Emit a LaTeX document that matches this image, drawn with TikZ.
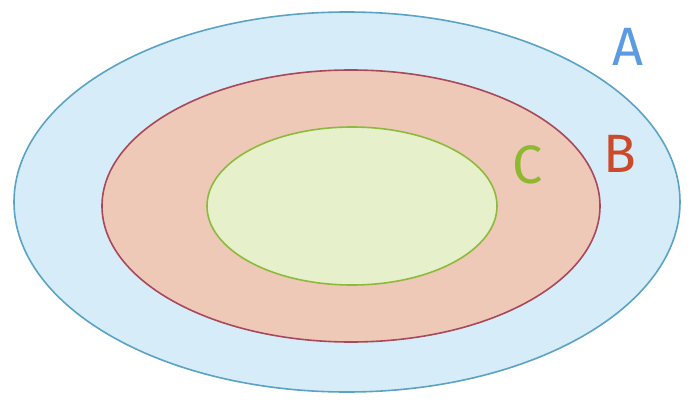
\documentclass[tikz,border=0pt]{standalone}
\usepackage{fontspec}
\setmainfont{Fira Sans}
\definecolor{afill}{HTML}{D6EDF9}
\definecolor{aline}{HTML}{5AA3C4}
\definecolor{bfill}{HTML}{EEC9B8}
\definecolor{bline}{HTML}{A8485A}
\definecolor{cfill}{HTML}{E6F0CA}
\definecolor{cline}{HTML}{8DBA3C}
\definecolor{atext}{HTML}{5B9BE2}
\definecolor{btext}{HTML}{CC4A2C}
\definecolor{ctext}{HTML}{8DB830}
\tikzset{setline/.style={line width=1.6pt}, lab/.style={inner sep=0pt, font=\fontsize{54}{54}\selectfont}}
\begin{document}
\begin{tikzpicture}[x=1pt,y=-1pt]
\useasboundingbox (0,0) rectangle (689,402);
\fill[white] (0,0) rectangle (689,402);
\draw[setline, draw=aline, fill=afill] (347,202) ellipse [x radius=333, y radius=190];
\draw[setline, draw=bline, fill=bfill] (351,206) ellipse [x radius=249, y radius=136];
\draw[setline, draw=cline, fill=cfill] (352,206) ellipse [x radius=145, y radius=79];
\node[lab, text=atext] (A) at (628,47) {A};
\node[lab, text=btext] (B) at (620,154) {B};
\node[lab, text=ctext] (C) at (528,165) {C};
\end{tikzpicture}
\end{document}
